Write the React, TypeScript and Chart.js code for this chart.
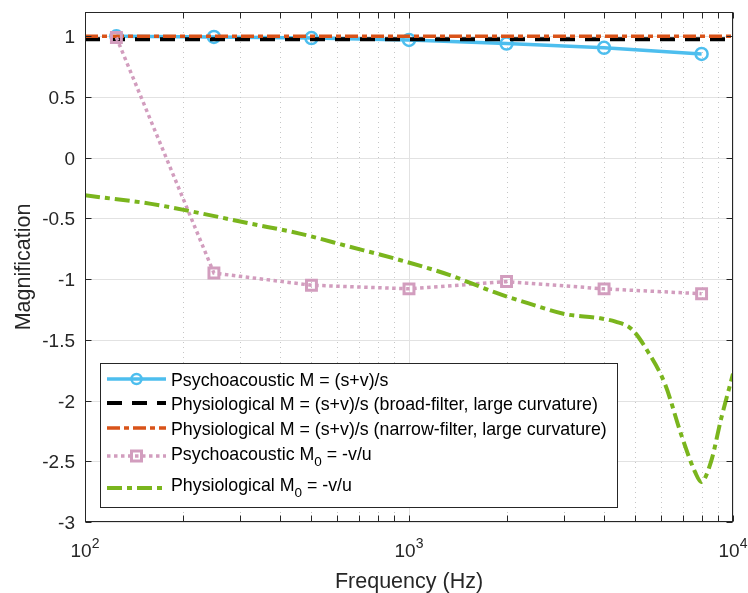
import React, { useEffect, useRef } from 'react';
import { Chart, registerables } from 'chart.js';

Chart.register(...registerables);

const FONT = '"Liberation Sans", Arial, Helvetica, sans-serif';
const TEXT = '#262626';

// ---- axes / ticks ----
const xTickValues = [100, 200, 300, 400, 500, 600, 700, 800, 900, 1000, 2000, 3000, 4000, 5000, 6000, 7000, 8000, 9000, 10000];
const xMajorValues = [100, 1000, 10000];
const xMajorExponents = ['2', '3', '4'];
const yTickValues = [-3, -2.5, -2, -1.5, -1, -0.5, 0, 0.5, 1];
const yTickLabels = ['-3', '-2.5', '-2', '-1.5', '-1', '-0.5', '0', '0.5', '1'];
const xTitle = 'Frequency (Hz)';
const yTitle = 'Magnification';

// ---- series ----
const psychoFreq = [125, 250, 500, 1000, 2000, 4000, 8000];
const psychoM = [1.0, 0.995, 0.985, 0.97, 0.94, 0.905, 0.855];
const psychoM0 = [0.99, -0.95, -1.05, -1.08, -1.02, -1.08, -1.12];
const broadFreq = [100, 10000];
const broadM = [0.975, 0.975];
const narrowFreq = [100, 10000];
const narrowM = [1.0, 1.0];
const physM0Freq = [100, 160, 225, 320, 460, 650, 930, 1330, 1560, 1890, 2340, 3060, 3840, 4340, 4860, 5470, 6180, 6920, 7640, 7980, 8560, 9190, 10000];
const physM0 = [-0.31, -0.38, -0.455, -0.54, -0.625, -0.73, -0.84, -0.965, -1.035, -1.12, -1.2, -1.29, -1.32, -1.35, -1.41, -1.6, -1.87, -2.28, -2.59, -2.67, -2.5, -2.15, -1.78];

// ---- legend text ----
const legendPre = [
  'Psychoacoustic M = (s+v)/s',
  'Physiological M = (s+v)/s (broad-filter, large curvature)',
  'Physiological M = (s+v)/s (narrow-filter, large curvature)',
  'Psychoacoustic M',
  'Physiological M',
];
const legendSub = ['', '', '', '0', '0'];
const legendPost = ['', '', '', ' = -v/u', ' = -v/u'];

const COLORS = ['#4DBEEE', '#000000', '#D95319', '#D29DBE', '#7AB51D'];
const DASHES: number[][] = [[], [15, 10], [13, 4, 5, 4], [3.5, 3.5], [15, 5, 5, 5]];
const WIDTHS = [3.5, 4, 3.5, 3.5, 4];

const pts = (xs: number[], ys: number[]) => xs.map((x, i) => ({ x, y: ys[i] }));

const matlabPlugin = {
  id: 'matlabStyle',
  beforeDatasetsDraw(chart: any) {
    const { ctx, chartArea: a, scales } = chart;
    const x = scales.x;
    const y = scales.y;
    ctx.save();
    ctx.lineWidth = 1;
    ctx.strokeStyle = '#e2e2e2';
    ctx.setLineDash([]);
    y.ticks.forEach((t: any) => {
      const py = Math.round(y.getPixelForValue(t.value)) + 0.5;
      ctx.beginPath();
      ctx.moveTo(a.left, py);
      ctx.lineTo(a.right, py);
      ctx.stroke();
    });
    x.ticks.forEach((t: any) => {
      const px = Math.round(x.getPixelForValue(t.value)) + 0.5;
      const major = xMajorValues.includes(t.value);
      ctx.strokeStyle = major ? '#e2e2e2' : '#c6c6c6';
      ctx.setLineDash(major ? [] : [1, 4]);
      ctx.beginPath();
      ctx.moveTo(px, a.top);
      ctx.lineTo(px, a.bottom);
      ctx.stroke();
    });
    ctx.restore();
  },
  afterDraw(chart: any) {
    const { ctx, chartArea: a, scales } = chart;
    const x = scales.x;
    const y = scales.y;
    ctx.save();
    ctx.setLineDash([]);
    ctx.strokeStyle = TEXT;
    ctx.lineWidth = 1;
    const L = Math.round(a.left) + 0.5;
    const R = Math.round(a.right) - 0.5;
    const T = Math.round(a.top) + 0.5;
    const B = Math.round(a.bottom) - 0.5;
    ctx.strokeRect(L, T, R - L, B - T);
    const tl = 6;
    ctx.beginPath();
    y.ticks.forEach((t: any) => {
      const py = Math.round(y.getPixelForValue(t.value)) + 0.5;
      ctx.moveTo(L, py); ctx.lineTo(L + tl, py);
      ctx.moveTo(R, py); ctx.lineTo(R - tl, py);
    });
    x.ticks.forEach((t: any) => {
      const px = Math.round(x.getPixelForValue(t.value)) + 0.5;
      ctx.moveTo(px, B); ctx.lineTo(px, B - tl);
      ctx.moveTo(px, T); ctx.lineTo(px, T + tl);
    });
    ctx.stroke();

    // y tick labels
    ctx.fillStyle = TEXT;
    ctx.font = `19px ${FONT}`;
    ctx.textAlign = 'right';
    ctx.textBaseline = 'alphabetic';
    yTickValues.forEach((v, i) => {
      const py = y.getPixelForValue(v);
      ctx.fillText(yTickLabels[i], a.left - 10, py + 7);
    });
    // x tick labels (10^n)
    xMajorValues.forEach((v, i) => {
      const px = x.getPixelForValue(v);
      ctx.font = `19px ${FONT}`;
      const wBase = ctx.measureText('10').width;
      ctx.font = `14px ${FONT}`;
      const wExp = ctx.measureText(xMajorExponents[i]).width;
      const start = px - (wBase + wExp) / 2;
      ctx.textAlign = 'left';
      ctx.font = `19px ${FONT}`;
      ctx.fillText('10', start, a.bottom + 35);
      ctx.font = `14px ${FONT}`;
      ctx.fillText(xMajorExponents[i], start + wBase, a.bottom + 26);
    });
    // axis titles
    ctx.font = `21.5px ${FONT}`;
    ctx.textAlign = 'center';
    ctx.fillText(xTitle, (a.left + a.right) / 2, a.bottom + 66);
    ctx.save();
    ctx.translate(30, (a.top + a.bottom) / 2);
    ctx.rotate(-Math.PI / 2);
    ctx.fillText(yTitle, 0, 0);
    ctx.restore();

    // legend
    const bx = 100.5, by = 363.5, bw = 517, bh = 144;
    ctx.fillStyle = '#ffffff';
    ctx.fillRect(bx, by, bw, bh);
    ctx.strokeStyle = TEXT;
    ctx.lineWidth = 1;
    ctx.strokeRect(bx, by, bw, bh);
    const lineY = [379, 403, 428, 456, 488];
    const baseY = [386, 410, 435, 460, 491];
    const x0 = 107, x1 = 166, xm = 136.5, xt = 171;
    for (let i = 0; i < legendPre.length; i++) {
      ctx.strokeStyle = COLORS[i];
      ctx.lineWidth = WIDTHS[i];
      ctx.setLineDash(DASHES[i]);
      ctx.lineCap = 'butt';
      ctx.beginPath();
      ctx.moveTo(x0, lineY[i]);
      ctx.lineTo(x1, lineY[i]);
      ctx.stroke();
      ctx.setLineDash([]);
      if (i === 0) {
        ctx.lineWidth = 2.5;
        ctx.beginPath();
        ctx.arc(xm, lineY[i], 5, 0, Math.PI * 2);
        ctx.stroke();
      }
      if (i === 3) {
        ctx.lineWidth = 3;
        ctx.strokeRect(xm - 5, lineY[i] - 5, 10, 10);
      }
      ctx.fillStyle = '#000000';
      ctx.textAlign = 'left';
      ctx.font = `17.8px ${FONT}`;
      ctx.fillText(legendPre[i], xt, baseY[i]);
      if (legendSub[i]) {
        let cx = xt + ctx.measureText(legendPre[i]).width;
        ctx.font = `13.5px ${FONT}`;
        ctx.fillText(legendSub[i], cx, baseY[i] + 6);
        cx += ctx.measureText(legendSub[i]).width;
        ctx.font = `17.8px ${FONT}`;
        ctx.fillText(legendPost[i], cx, baseY[i]);
      }
    }
    ctx.restore();
  },
};

export default function App() {
  const ref = useRef<HTMLCanvasElement | null>(null);
  useEffect(() => {
    document.body.style.margin = '0';
    if (!ref.current) return;
    const chart = new Chart(ref.current, {
      type: 'line',
      data: {
        datasets: [
          {
            label: legendPre[0],
            data: pts(psychoFreq, psychoM),
            borderColor: COLORS[0],
            borderWidth: WIDTHS[0],
            pointStyle: 'circle',
            pointRadius: 6,
            pointBorderWidth: 2.5,
            pointBorderColor: COLORS[0],
            pointBackgroundColor: 'rgba(0,0,0,0)',
            tension: 0,
            order: 5,
          },
          {
            label: legendPre[1],
            data: pts(broadFreq, broadM),
            borderColor: COLORS[1],
            borderWidth: WIDTHS[1],
            borderDash: DASHES[1],
            pointRadius: 0,
            order: 4,
          },
          {
            label: legendPre[2],
            data: pts(narrowFreq, narrowM),
            borderColor: COLORS[2],
            borderWidth: WIDTHS[2],
            borderDash: DASHES[2],
            pointRadius: 0,
            order: 3,
          },
          {
            label: legendPre[3] + legendSub[3] + legendPost[3],
            data: pts(psychoFreq, psychoM0),
            borderColor: COLORS[3],
            borderWidth: WIDTHS[3],
            borderDash: DASHES[3],
            pointStyle: 'rect',
            pointRadius: 7,
            pointBorderWidth: 3,
            pointBorderColor: COLORS[3],
            pointBackgroundColor: 'rgba(0,0,0,0)',
            tension: 0,
            order: 2,
          },
          {
            label: legendPre[4] + legendSub[4] + legendPost[4],
            data: pts(physM0Freq, physM0),
            borderColor: COLORS[4],
            borderWidth: WIDTHS[4],
            borderDash: DASHES[4],
            pointRadius: 0,
            cubicInterpolationMode: 'monotone',
            order: 1,
          },
        ],
      } as any,
      options: {
        responsive: false,
        animation: false,
        devicePixelRatio: 1,
        layout: { padding: { left: 85, top: 12, right: 15, bottom: 71 } },
        plugins: { legend: { display: false }, tooltip: { enabled: false } },
        scales: {
          x: {
            type: 'logarithmic',
            min: 100,
            max: 10000,
            afterBuildTicks: (axis: any) => {
              axis.ticks = xTickValues.map((v) => ({ value: v }));
            },
            ticks: { display: false },
            grid: { display: false, drawTicks: false },
            border: { display: false },
          },
          y: {
            type: 'linear',
            min: -3,
            max: 1.2,
            afterBuildTicks: (axis: any) => {
              axis.ticks = yTickValues.map((v) => ({ value: v }));
            },
            ticks: { display: false },
            grid: { display: false, drawTicks: false },
            border: { display: false },
          },
        },
      } as any,
      plugins: [matlabPlugin],
    });
    return () => chart.destroy();
  }, []);
  return (
    <div style={{ position: 'absolute', left: 0, top: 0, width: 748, height: 593, background: '#fff' }}>
      <canvas ref={ref} width={748} height={593} style={{ display: 'block' }} />
    </div>
  );
}
